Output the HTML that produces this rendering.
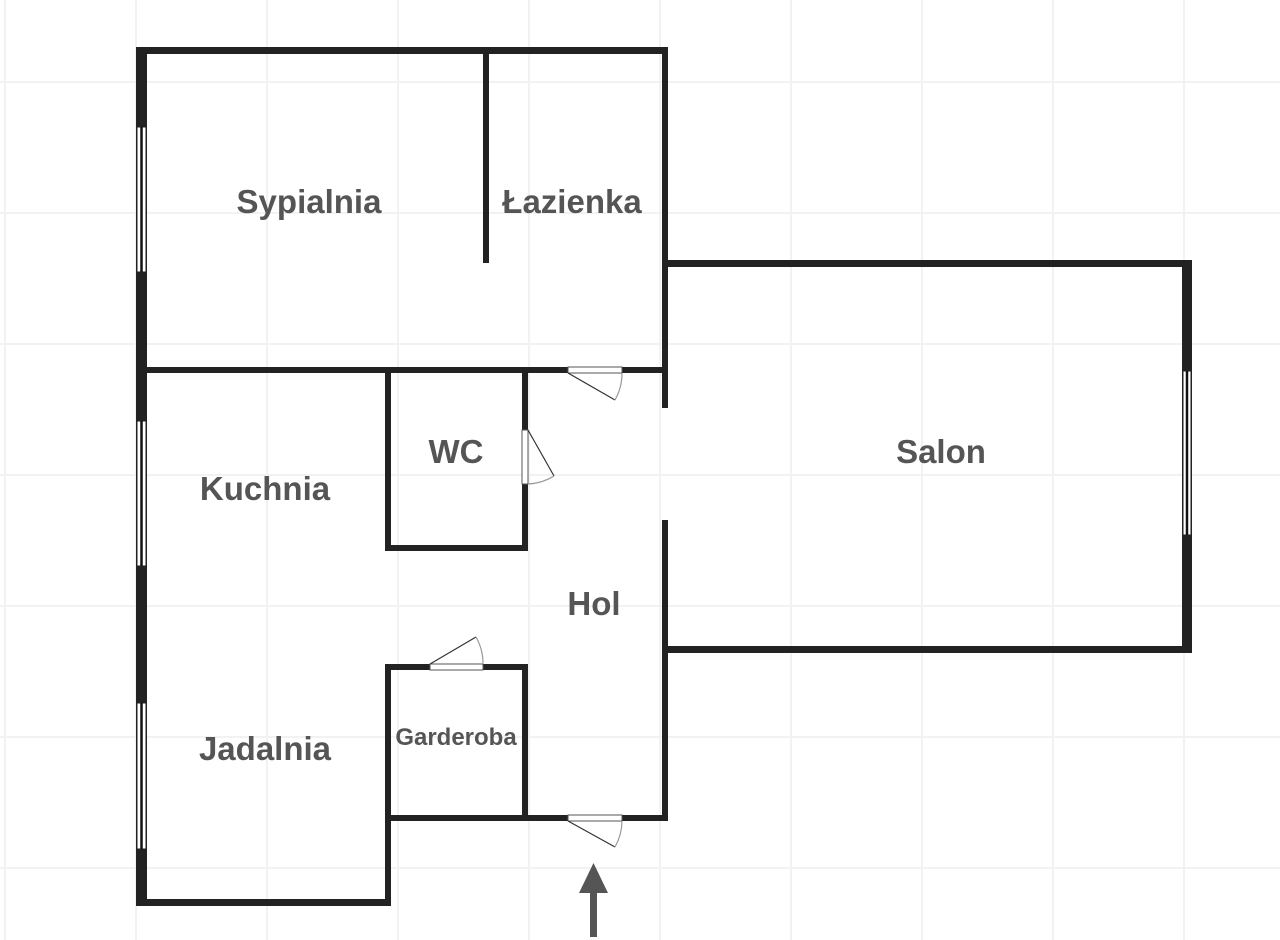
<!DOCTYPE html>
<html><head><meta charset="utf-8"><style>
html,body{margin:0;padding:0;background:#fff;}
svg{display:block}
text{font-family:"Liberation Sans",sans-serif;font-weight:bold;fill:#555;text-anchor:middle}
</style></head><body>
<svg width="1280" height="940" viewBox="0 0 1280 940" xmlns="http://www.w3.org/2000/svg">
<g stroke="#f2f2f2" stroke-width="2">
<line x1="5" y1="0" x2="5" y2="940"/><line x1="136" y1="0" x2="136" y2="940"/><line x1="267" y1="0" x2="267" y2="940"/><line x1="398" y1="0" x2="398" y2="940"/><line x1="529" y1="0" x2="529" y2="940"/><line x1="660" y1="0" x2="660" y2="940"/><line x1="791" y1="0" x2="791" y2="940"/><line x1="922" y1="0" x2="922" y2="940"/><line x1="1053" y1="0" x2="1053" y2="940"/><line x1="1184" y1="0" x2="1184" y2="940"/>
<line x1="0" y1="82" x2="1280" y2="82"/><line x1="0" y1="213" x2="1280" y2="213"/><line x1="0" y1="344" x2="1280" y2="344"/><line x1="0" y1="475" x2="1280" y2="475"/><line x1="0" y1="606" x2="1280" y2="606"/><line x1="0" y1="737" x2="1280" y2="737"/><line x1="0" y1="868" x2="1280" y2="868"/>
</g>
<g fill="#222">
<rect x="136" y="47" width="11" height="859"/>
<rect x="136" y="47" width="532" height="7"/>
<rect x="483" y="50" width="6" height="213"/>
<rect x="662" y="47" width="6" height="361"/>
<rect x="662" y="520" width="6" height="301"/>
<rect x="136" y="367" width="432" height="6"/>
<rect x="622" y="367" width="46" height="6"/>
<rect x="385" y="367" width="6" height="184"/>
<rect x="385" y="545" width="143" height="6"/>
<rect x="522" y="367" width="6" height="63"/>
<rect x="522" y="484" width="6" height="67"/>
<rect x="662" y="260" width="530" height="7"/>
<rect x="1182" y="260" width="10" height="393"/>
<rect x="662" y="646" width="530" height="7"/>
<rect x="385" y="664" width="45" height="6"/>
<rect x="483" y="664" width="45" height="6"/>
<rect x="385" y="664" width="6" height="242"/>
<rect x="522" y="664" width="6" height="157"/>
<rect x="385" y="815" width="183" height="6"/>
<rect x="622" y="815" width="46" height="6"/>
<rect x="136" y="899" width="254" height="7"/>
</g>
<g fill="#fff" stroke="#222" stroke-width="1">
<rect x="137" y="127" width="9" height="145"/>
<rect x="137" y="421" width="9" height="145"/>
<rect x="137" y="703" width="9" height="146"/>
<rect x="1183" y="371" width="8" height="164"/>
</g>
<g stroke="#111" stroke-width="2.5">
<line x1="141.5" y1="127" x2="141.5" y2="272"/>
<line x1="141.5" y1="421" x2="141.5" y2="566"/>
<line x1="141.5" y1="703" x2="141.5" y2="849"/>
<line x1="1187" y1="371" x2="1187" y2="535"/>
</g>
<g fill="#fff" stroke="#555" stroke-width="1">
<rect x="568" y="367" width="54" height="6"/>
<rect x="522" y="430" width="6" height="54"/>
<rect x="430" y="664" width="53" height="6"/>
<rect x="568" y="815" width="54" height="6"/>
</g>
<g fill="none" stroke="#333" stroke-width="1.2">
<line x1="568" y1="373" x2="615" y2="400"/>
<path d="M622 373 A54 54 0 0 1 615 400" stroke="#999"/>
<line x1="528" y1="430" x2="554" y2="476"/>
<path d="M554 476 A54 54 0 0 1 528 484" stroke="#999"/>
<line x1="430" y1="664" x2="476" y2="637"/>
<path d="M476 637 A54 54 0 0 1 483 664" stroke="#999"/>
<line x1="568" y1="821" x2="615" y2="847"/>
<path d="M622 821 A54 54 0 0 1 615 847" stroke="#999"/>
</g>
<rect x="590" y="890" width="7" height="47" fill="#555"/>
<polygon points="593.5,863 579,893 608,893" fill="#555"/>
<text x="309" y="213" font-size="33">Sypialnia</text>
<text x="572" y="213" font-size="33">Łazienka</text>
<text x="941" y="463" font-size="33">Salon</text>
<text x="456" y="463" font-size="33">WC</text>
<text x="265" y="500" font-size="33">Kuchnia</text>
<text x="594" y="615" font-size="33">Hol</text>
<text x="265" y="760" font-size="33">Jadalnia</text>
<text x="456" y="745" font-size="24">Garderoba</text>
</svg>
</body></html>
